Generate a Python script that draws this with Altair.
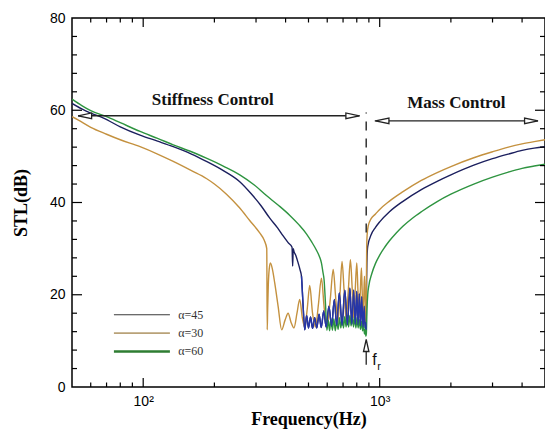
import altair as alt
import pandas as pd

# ---------------- data ----------------
freq_a30 = [50, 53, 60, 70, 80, 97, 115, 134, 160, 185, 200, 225, 255, 282, 311, 325, 333, 334.5, 336, 338, 341,
            345, 352, 360, 372, 385, 398, 410, 422, 434, 447, 459, 471, 482, 494, 506, 520, 535, 551, 567, 583,
            600, 618, 636, 650, 665, 679, 693, 707, 722, 737, 752, 764, 776, 788, 800, 809, 818, 827, 837, 843,
            850, 856, 862, 868, 874, 878, 881, 885, 895, 920, 960, 1000, 1100, 1250, 1500, 1750, 2000, 2500,
            3000, 3500, 4000, 4500, 5000]
stl_a30 = [58.6, 57.9, 56.3, 54.8, 53.6, 52.1, 50.5, 48.9, 46.9, 45.2, 44.0, 41.8, 38.9, 36.1, 33.4, 31.8, 30.0,
           12.4, 17, 22, 25.5, 26.9, 25.5, 22.5, 17.5, 12.4, 14.5, 16.0, 14.0, 12.8, 16.0, 19.0, 15.0, 13.0, 17.0,
           22.0, 16.0, 13.0, 18.0, 23.6, 17.0, 13.5, 19.0, 25.5, 20.0, 14.0, 20.0, 27.2, 21.0, 14.5, 21.0, 27.6,
           22.0, 15.0, 21.0, 26.9, 21.0, 15.0, 20.0, 25.8, 21.0, 15.5, 19.0, 24.0, 19.0, 14.0, 20.0, 30.0, 33.0,
           35.0, 36.5, 37.5, 38.5, 40.3, 42.3, 44.8, 46.5, 47.8, 49.7, 51.0, 52.0, 52.7, 53.2, 53.6]

freq_a45 = [50, 55, 60, 68, 80, 97, 115, 134, 160, 185, 220, 256, 285, 315, 343, 370, 390, 410, 426, 428.5,
            431, 434, 442, 452, 460, 467, 474, 482, 491, 500, 510, 520, 531, 542, 554, 566, 580, 594, 610, 626,
            643, 658, 675, 693, 712, 730, 748, 762, 776, 788, 800, 810, 820, 830, 840, 850, 860, 868, 874, 877,
            880, 884, 890, 920, 960, 1000, 1100, 1250, 1500, 1750, 2000, 2500, 3000, 3500, 4000, 4500, 5000]
stl_a45 = [61.5, 60.3, 59.4, 58.3, 56.4, 54.6, 53.3, 52.1, 50.5, 48.9, 46.8, 44.5, 42.0, 39.3, 36.6, 34.5, 32.8,
           31.3, 30.3, 26.2, 30.0, 29.4, 28.5, 26.9, 25.5, 24.0, 18.0, 12.4, 15.5, 12.8, 15.2, 12.7, 15.0, 12.8,
           15.8, 12.9, 16.5, 13.0, 17.5, 13.2, 19.0, 13.3, 20.4, 13.4, 21.0, 13.5, 21.4, 13.6, 21.0, 13.6, 20.7,
           13.5, 20.2, 13.3, 19.6, 13.0, 17.5, 12.8, 14.0, 12.4, 22.0, 28.0, 30.5, 33.0, 34.6, 35.8, 38.0, 40.2,
           42.8, 44.6, 46.0, 48.1, 49.5, 50.5, 51.3, 51.8, 52.1]

freq_a60 = [50, 55, 60, 70, 80, 97, 115, 134, 160, 185, 220, 256, 295, 332, 375, 417, 455, 490, 515, 541,
            556, 567, 575, 582, 590, 598, 606, 614, 622, 631, 640, 649, 658, 667, 676, 685, 694, 703, 712, 721,
            730, 739, 748, 757, 766, 775, 784, 793, 802, 811, 820, 829, 838, 847, 855, 862, 868, 874, 878, 884,
            890, 900, 925, 960, 1000, 1050, 1100, 1175, 1250, 1375, 1500, 1750, 2000, 2500, 3000, 3500, 4000,
            4500, 5000]
stl_a60 = [62.4, 61.0, 59.9, 58.6, 57.3, 55.4, 53.9, 52.5, 51.0, 49.6, 47.8, 46.0, 43.8, 41.5, 39.3, 37.2, 35.2,
           33.2, 31.5, 29.6, 28.3, 26.9, 25.0, 23.2, 18.0, 12.3, 14.5, 12.2, 14.8, 12.3, 14.8, 12.2, 14.5, 12.5,
           15.0, 12.8, 15.2, 12.8, 15.3, 13.0, 15.5, 13.0, 15.5, 13.2, 15.5, 13.0, 15.3, 12.8, 15.0, 12.8, 14.6,
           12.5, 14.2, 12.2, 13.5, 11.5, 12.5, 11.0, 11.5, 17.0, 20.0, 22.0, 24.5, 26.8, 28.6, 30.3, 31.7, 33.4,
           34.8, 36.6, 38.0, 40.2, 41.8, 44.0, 45.5, 46.6, 47.4, 47.9, 48.3]

series_names = ["α=45", "α=30", "α=60"]
series_colors = ["#1b1f5e", "#c4913f", "#2e9440"]
legend_colors = ["#3a3a3a", "#b9a278", "#2e7d32"]
legend_widths = [1.2, 2.4, 2.0]

x_major_ticks = [100, 1000]
x_minor_ticks = [60, 70, 80, 90, 200, 300, 400, 500, 600, 700, 800, 900, 2000, 3000, 4000]
y_major_ticks = [20, 40, 60]
y_minor_ticks = [4, 8, 12, 16, 24, 28, 32, 36, 44, 48, 52, 56, 64, 68, 72, 76]

# annotation anchors (data units)
f_res = 877
stiff_y, stiff_x1, stiff_x2 = 58.8, 53, 823
mass_y, mass_x1, mass_x2 = 57.7, 953, 4667

# ---------------- build tables ----------------
rows = []
for name, fs, vs in [("α=45", freq_a45, stl_a45), ("α=30", freq_a30, stl_a30), ("α=60", freq_a60, stl_a60)]:
    for i, (f, v) in enumerate(zip(fs, vs)):
        rows.append({"series": name, "freq": f, "stl": v, "idx": i})
df = pd.DataFrame(rows)
df_osc45 = df[(df.series == "α=45") & (df.freq >= 467) & (df.freq <= 878)]

W, H = 473, 369
xs = alt.Scale(type="log", domain=[50, 5000], nice=False)
ys = alt.Scale(domain=[0, 80], nice=False)

SANS = "Liberation Sans"
SERIF = "Liberation Serif"

x_axis = alt.Axis(values=x_major_ticks, labelExpr="datum.value == 100 ? '10²' : '10³'",
                  grid=False, ticks=False, tickSize=0, domain=False, labelFont=SANS, labelFontSize=14,
                  labelColor="black", labelPadding=7, title="Frequency(Hz)", titleFont=SERIF,
                  titleFontSize=18, titleFontWeight="bold", titleColor="black", titlePadding=2)
y_axis = alt.Axis(values=[0, 20, 40, 60, 80], grid=False, ticks=False, tickSize=0, domain=False,
                  labelFont=SANS, labelFontSize=14, labelColor="black", labelPadding=7,
                  title="STL(dB)", titleFont=SERIF, titleFontSize=18, titleFontWeight="bold",
                  titleColor="black", titlePadding=19)


def X(field):
    return alt.X(field, scale=xs, axis=x_axis)


def Y(field):
    return alt.Y(field, scale=ys, axis=y_axis)


lines = alt.Chart(df).mark_line(strokeWidth=1.4, interpolate="monotone", clip=True).encode(
    x=X("freq:Q"), y=Y("stl:Q"),
    color=alt.Color("series:N", scale=alt.Scale(domain=series_names, range=series_colors), legend=None),
    detail="series:N",
    order="idx:Q",
)
osc45 = alt.Chart(df_osc45).mark_line(strokeWidth=1.4, interpolate="monotone", clip=True,
                                      color="#2636a8").encode(x=X("freq:Q"), y=Y("stl:Q"), order="idx:Q")

# ticks (inward)
xt_major = pd.DataFrame({"freq": x_major_ticks})
xt_minor = pd.DataFrame({"freq": x_minor_ticks})
yt_major = pd.DataFrame({"stl": y_major_ticks})
yt_minor = pd.DataFrame({"stl": y_minor_ticks})


def xtick(d, length):
    b = alt.Chart(d).mark_rule(color="black", strokeWidth=1.2).encode(
        x=X("freq:Q"), y=alt.value(H), y2=alt.value(H - length))
    t = alt.Chart(d).mark_rule(color="black", strokeWidth=1.2).encode(
        x=X("freq:Q"), y=alt.value(0), y2=alt.value(length))
    return [b, t]


def ytick(d, length):
    l = alt.Chart(d).mark_rule(color="black", strokeWidth=1.2).encode(
        y=Y("stl:Q"), x=alt.value(0), x2=alt.value(length))
    r = alt.Chart(d).mark_rule(color="black", strokeWidth=1.2).encode(
        y=Y("stl:Q"), x=alt.value(W), x2=alt.value(W - length))
    return [l, r]


ticks = xtick(xt_major, 9) + xtick(xt_minor, 4.5) + ytick(yt_major, 10) + ytick(yt_minor, 5)

# region arrows
arrow_lines = pd.DataFrame({"freq": [stiff_x1, mass_x1], "x2": [stiff_x2, mass_x2], "stl": [stiff_y, mass_y]})
arrow_rules = alt.Chart(arrow_lines).mark_rule(color="#222", strokeWidth=1.4).encode(
    x=X("freq:Q"), x2="x2:Q", y=Y("stl:Q"))

left_path = "M -1 0 L 1 -0.42 L 1 0.42 Z"
right_path = "M 1 0 L -1 -0.42 L -1 0.42 Z"
up_path = "M 0 -1 L 0.45 1 L -0.45 1 Z"

heads_left = pd.DataFrame({"freq": [56.7, 1025], "stl": [stiff_y, mass_y]})
heads_right = pd.DataFrame({"freq": [768, 4375], "stl": [stiff_y, mass_y]})


def heads(d, path, size):
    return alt.Chart(d).mark_point(shape=path, size=size, filled=True, fill="white", stroke="#222",
                                   strokeWidth=1.3, opacity=1).encode(x=X("freq:Q"), y=Y("stl:Q"))


hl = heads(heads_left, left_path, 180)
hr = heads(heads_right, right_path, 180)

region_text = pd.DataFrame({"freq": [197, 2109], "stl": [62.2, 61.5],
                            "label": ["Stiffness Control", "Mass Control"]})
rtext = alt.Chart(region_text).mark_text(font=SERIF, fontSize=17, fontWeight="bold", color="#111",
                                         baseline="middle", align="center").encode(
    x=X("freq:Q"), y=Y("stl:Q"), text="label:N")

# resonance dashed line and f_r arrow
dash_df = pd.DataFrame({"freq": [f_res], "stl": [33.5], "y2": [59.5]})
dash = alt.Chart(dash_df).mark_rule(color="#333", strokeWidth=1.5, strokeDash=[9, 8]).encode(
    x=X("freq:Q"), y=Y("stl:Q"), y2="y2:Q")
fr_shaft_df = pd.DataFrame({"freq": [f_res], "stl": [4.8], "y2": [7.8]})
fr_shaft = alt.Chart(fr_shaft_df).mark_rule(color="#222", strokeWidth=1.3).encode(
    x=X("freq:Q"), y=Y("stl:Q"), y2="y2:Q")
fr_head = heads(pd.DataFrame({"freq": [f_res], "stl": [9.0]}), up_path, 144)
fr_f = alt.Chart(pd.DataFrame({"freq": [950], "stl": [5.9], "t": ["f"]})).mark_text(
    font=SANS, fontSize=16, color="#111", baseline="middle", align="center").encode(
    x=X("freq:Q"), y=Y("stl:Q"), text="t:N")
fr_r = alt.Chart(pd.DataFrame({"freq": [993], "stl": [4.3], "t": ["r"]})).mark_text(
    font=SANS, fontSize=11, color="#111", baseline="middle", align="center").encode(
    x=X("freq:Q"), y=Y("stl:Q"), text="t:N")

# legend (drawn inside the plot)
leg = pd.DataFrame({"series": series_names, "freq": [75.2] * 3, "x2": [129.7] * 3,
                    "tx": [140.6] * 3, "stl": [15.66, 11.70, 7.71]})
leg_lines = alt.Chart(leg).mark_rule().encode(
    x=X("freq:Q"), x2="x2:Q", y=Y("stl:Q"),
    color=alt.Color("series:N", scale=alt.Scale(domain=series_names, range=legend_colors), legend=None),
    strokeWidth=alt.StrokeWidth("series:N", scale=alt.Scale(domain=series_names, range=legend_widths),
                                legend=None))
leg_text = alt.Chart(leg).mark_text(font=SERIF, fontSize=12, color="#333", align="left",
                                    baseline="middle").encode(
    x=alt.X("tx:Q", scale=xs, axis=x_axis), y=Y("stl:Q"), text="series:N")

chart = alt.layer(
    lines, osc45, *ticks, arrow_rules, hl, hr, rtext, dash, fr_shaft, fr_head, fr_f, fr_r,
    leg_lines, leg_text
).resolve_scale(color="independent", strokeWidth="independent").properties(
    width=W, height=H,
    padding={"left": 72, "top": 18, "right": 0, "bottom": 49},
    autosize=alt.AutoSizeParams(type="none"),
    background="white",
).configure_view(stroke="black", strokeWidth=1.5)

chart.save("out.html", embed_options={"renderer": "svg", "actions": False})
